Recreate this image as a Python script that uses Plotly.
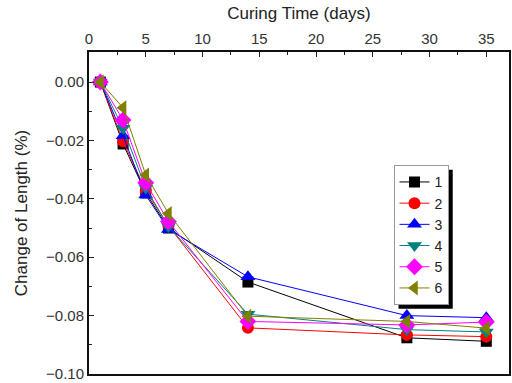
import plotly.graph_objects as go

days = [1, 3, 5, 7, 14, 28, 35]
series_names = ["1", "2", "3", "4", "5", "6"]
s1 = [0.0, -0.0212, -0.0380, -0.0500, -0.0685, -0.0876, -0.0888]
s2 = [0.0, -0.0203, -0.0372, -0.0492, -0.0842, -0.0866, -0.0872]
s3 = [0.0, -0.0184, -0.0387, -0.0505, -0.0667, -0.0800, -0.0807]
s4 = [0.0, -0.0158, -0.0363, -0.0495, -0.0795, -0.0848, -0.0856]
s5 = [0.0, -0.0130, -0.0345, -0.0478, -0.0820, -0.0832, -0.0822]
s6 = [0.0, -0.0088, -0.0318, -0.0450, -0.0802, -0.0820, -0.0843]
values = [s1, s2, s3, s4, s5, s6]

colors = ["#000000", "#FF0000", "#0000FF", "#008080", "#FF00FF", "#808000"]
symbols = ["square", "circle", "triangle-up", "triangle-down", "diamond", "triangle-left"]
sizes = [11, 12, 13, 13, 13, 13]

FONT = "Liberation Sans, Arial, sans-serif"

fig = go.Figure()
for name, vals, c, sym, sz in zip(series_names, values, colors, symbols, sizes):
    fig.add_trace(go.Scatter(
        x=days, y=vals, name=name, mode="lines+markers",
        line=dict(color=c, width=1),
        marker=dict(symbol=sym, size=sz, color=c, line=dict(width=0)),
    ))

fig.update_layout(
    width=512, height=383,
    margin=dict(l=89, r=1, t=52, b=9),
    paper_bgcolor="white", plot_bgcolor="white",
    font=dict(family=FONT, size=12, color="#222"),
    showlegend=True,
    legend=dict(
        x=0.725, y=0.648, xanchor="left", yanchor="top",
        bgcolor="white", bordercolor="#999", borderwidth=1,
        font=dict(size=14, family=FONT, color="#222"),
        tracegroupgap=0, itemwidth=30,
    ),
    shapes=[dict(type="rect", xref="paper", yref="paper",
                 x0=0.737, x1=0.866, y0=0.203, y1=0.634,
                 fillcolor="black", line=dict(width=0), layer="above")],
)

fig.update_xaxes(
    side="top", range=[0, 37], tick0=0, dtick=5,
    ticks="inside", ticklen=5, tickwidth=1, tickcolor="#222",
    minor=dict(ticks="inside", ticklen=3, dtick=2.5, tickcolor="#222"),
    showline=True, linecolor="#111", linewidth=1.5, mirror=True,
    showgrid=False, zeroline=False,
    title=dict(text="Curing Time (days)", font=dict(size=17, family=FONT), standoff=6),
    tickfont=dict(size=15, family=FONT, color="#333"),
)
fig.update_yaxes(
    range=[-0.1, 0.0103], tick0=0, dtick=0.02, tickformat=".2f",
    ticks="inside", ticklen=5, tickwidth=1, tickcolor="#222",
    minor=dict(ticks="inside", ticklen=3, dtick=0.01, tickcolor="#222"),
    showline=True, linecolor="#111", linewidth=2, mirror=True,
    showgrid=False, zeroline=False,
    title=dict(text="Change of Length (%)", font=dict(size=17, family=FONT), standoff=14),
    tickfont=dict(size=15, family=FONT, color="#333"),
)

fig.write_html("out.html")
